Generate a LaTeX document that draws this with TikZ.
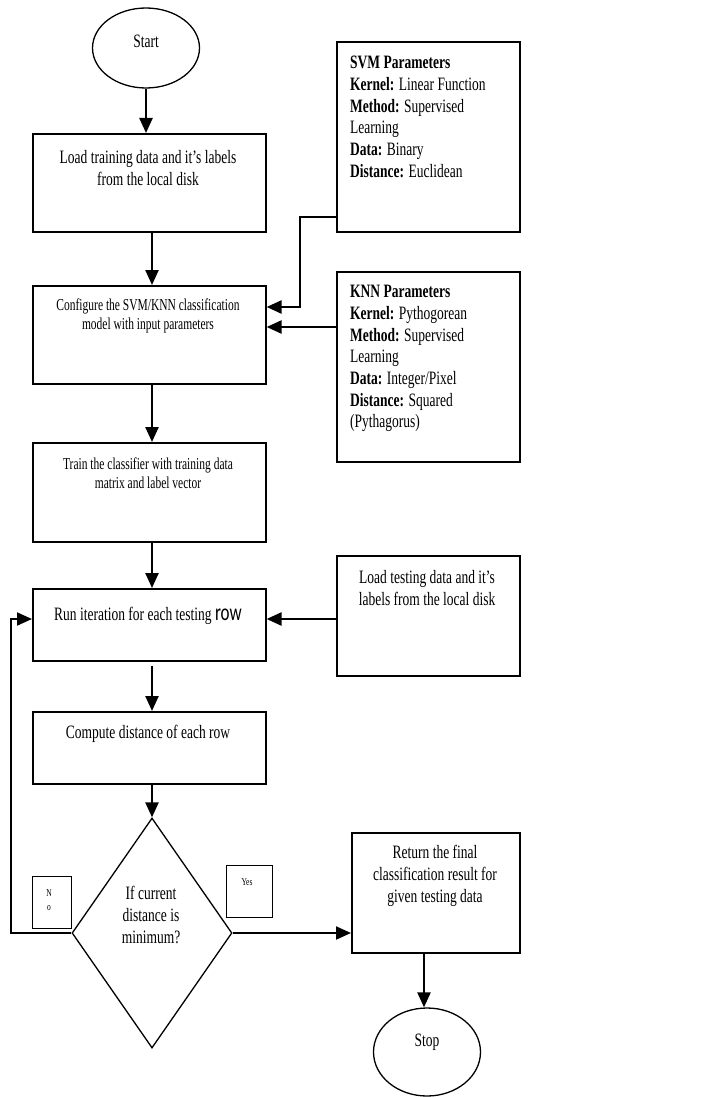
\documentclass[tikz,border=0pt]{standalone}
\usepackage{fontspec}
\setmainfont{Liberation Serif}
\newfontfamily\rowfont{Carlito}
\usetikzlibrary{shapes.geometric,arrows.meta}
\tikzset{
  boxshape/.style={draw, line width=1.6pt, rectangle, inner sep=0pt, anchor=north west},
  oval/.style={draw, line width=1.3pt, ellipse, inner sep=0pt},
  conn/.style={line width=2.4pt, -{Triangle[length=15pt,width=13pt]}},
  txt/.style={font=\fontsize{13.5}{15.5}\selectfont, yscale=1.4, align=center, inner sep=0pt},
  smalltxt/.style={font=\fontsize{11.5}{13.2}\selectfont, yscale=1.45, align=center, inner sep=0pt},
  partxt/.style={font=\fontsize{13.5}{15.5}\selectfont, yscale=1.4, align=left, inner sep=0pt, anchor=north west},
  tinytxt/.style={font=\fontsize{7.5}{9.5}\selectfont, yscale=1.4, align=center, inner sep=0pt},
}
\begin{document}
\begin{tikzpicture}[x=1pt,y=-1pt]
\useasboundingbox (0,0) rectangle (722,1097);
% shapes
\node[oval, minimum width=107, minimum height=80] (start) at (146,48) {};
\node[boxshape, minimum width=233, minimum height=98] (b1) at (32,133) {};
\node[boxshape, minimum width=233, minimum height=98] (b2) at (32,285) {};
\node[boxshape, minimum width=233, minimum height=99] (b3) at (32,442) {};
\node[boxshape, minimum width=233, minimum height=72] (b4) at (32,588) {};
\node[boxshape, minimum width=233, minimum height=72] (b5) at (32,711) {};
\node[draw, line width=1.3pt, diamond, inner sep=0pt, minimum width=160, minimum height=230] (dec) at (152,933) {};
\node[boxshape, minimum width=183, minimum height=190] (svm) at (336,41) {};
\node[boxshape, minimum width=183, minimum height=190] (knn) at (336,271) {};
\node[boxshape, minimum width=183, minimum height=120] (test) at (336,555) {};
\node[boxshape, minimum width=168, minimum height=120] (ret) at (351,832) {};
\node[oval, minimum width=107, minimum height=88] (stop) at (427,1052) {};
\node[boxshape, line width=1.3pt, minimum width=39, minimum height=52] (nobox) at (32,876) {};
\node[boxshape, line width=1.3pt, minimum width=46, minimum height=52] (yesbox) at (226,865) {};
% texts
\node[txt] (tstart) at (146,41) {Start};
\node[txt] (t1) at (148,168) {Load training data and it’s labels\\from the local disk};
\node[smalltxt] (t2) at (148,316) {Configure the SVM/KNN classification\\model with input parameters};
\node[smalltxt] (t3) at (148,473) {Train the classifier with training data\\matrix and label vector};
\node[txt] (t4) at (148,616) {Run iteration for each testing {\rowfont\fontsize{17}{17}\selectfont row}};
\node[txt] (t5) at (148,734) {Compute distance of each row};
\node[txt] (tdec) at (151,915) {If current\\distance is\\minimum?};
\node[partxt] (tsvm) at (350,56) {\textbf{SVM Parameters}\\\textbf{Kernel:} Linear Function\\\textbf{Method:} Supervised\\Learning\\\textbf{Data:} Binary\\\textbf{Distance:} Euclidean};
\node[partxt] (tknn) at (350,285) {\textbf{KNN Parameters}\\\textbf{Kernel:} Pythogorean\\\textbf{Method:} Supervised\\Learning\\\textbf{Data:} Integer/Pixel\\\textbf{Distance:} Squared\\(Pythagorus)};
\node[txt] (ttest) at (427,588) {Load testing data and it’s\\labels from the local disk};
\node[txt] (tret) at (435,876) {Return the final\\classification result for\\given testing data};
\node[txt] (tstop) at (427,1042) {Stop};
\node[tinytxt] (tno) at (49,900) {N\\o};
\node[tinytxt] (tyes) at (247,882) {Yes};
% connectors
\draw[conn] (start.south) -- (b1.north -| start.south);
\draw[conn] (b1.south -| dec.north) -- (b2.north -| dec.north);
\draw[conn] (b2.south -| dec.north) -- (b3.north -| dec.north);
\draw[conn] (b3.south -| dec.north) -- (b4.north -| dec.north);
\coordinate (b4low) at ([yshift=-4pt]b4.south -| dec.north);
\draw[conn] (b4low) -- (b5.north -| dec.north);
\draw[conn] (b5.south -| dec.north) -- (dec.north);
\coordinate (svmout) at (svm.west |- 0,217);
\coordinate (svmin) at (b2.east |- 0,307);
\draw[conn] (svmout) -- (300,217) -- (300,307) -- (svmin);
\coordinate (knnout) at (knn.west |- 0,327);
\draw[conn] (knnout) -- (knnout -| b2.east);
\coordinate (testout) at (test.west |- 0,619);
\coordinate (b4in) at (b4.east |- 0,619);
\draw[conn] (testout) -- (b4in);
\coordinate (b4inl) at (b4.west |- 0,619);
\draw[conn, line width=2pt] (dec.west) -- (11,933) -- (11,619) -- (b4inl);
\draw[conn, line width=2pt] (dec.east) -- (dec.east -| ret.west);
\coordinate (retout) at (424,952);
\draw[conn] (retout) -- (stop.north -| retout);
\end{tikzpicture}
\end{document}
